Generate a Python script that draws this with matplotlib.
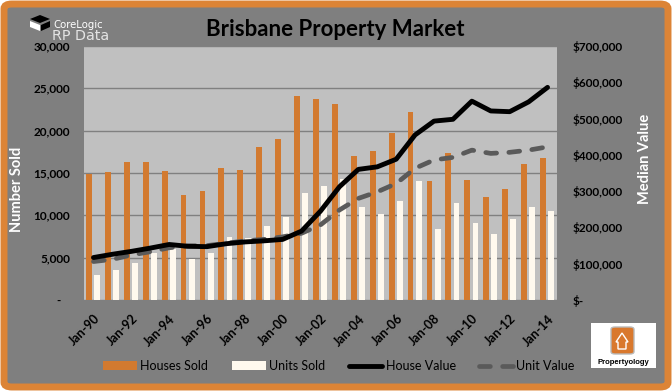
import matplotlib.pyplot as plt
import numpy as np
from matplotlib.lines import Line2D
from matplotlib.patches import FancyBboxPatch, Patch, Polygon, Rectangle

# data
years = list(range(1990, 2015))
houses_sold = [14900, 15100, 16300, 16300, 15200, 12400, 12900, 15600, 15350, 18100,
               19000, 24100, 23700, 23100, 17000, 17600, 19750, 22200, 14050, 17400,
               14200, 12200, 13100, 16100, 16800]
units_sold = [3000, 3550, 4400, 5500, 6050, 4850, 5500, 7500, 7300, 8750,
              9800, 12650, 13500, 14300, 11000, 10200, 11700, 14050, 8400, 11500,
              9100, 7800, 9600, 11000, 10500]
house_value = [117000, 126000, 134000, 143000, 153000, 148000, 147000, 155000, 160000, 163000,
               167000, 190000, 245000, 312000, 360000, 367000, 388000, 455000, 493000, 498000,
               548000, 521000, 519000, 546000, 586000]
unit_value = [106000, 112000, 124000, 133000, 144000, 149000, 150000, 156000, 163000, 167000,
              174000, 184000, 207000, 248000, 280000, 298000, 321000, 363000, 386000, 393000,
              413000, 404000, 407000, 413000, 422000]
left_ticks = [0, 5000, 10000, 15000, 20000, 25000, 30000]
right_ticks = [0, 100000, 200000, 300000, 400000, 500000, 600000, 700000]

labels = [f"Jan-{y % 100:02d}" for y in years]

ORANGE = "#d27a30"
CREAM = "#fff9ee"
GREY_BG = "#7f7f7f"
PLOT_BG = "#c0c0c0"
FONT = "Lato"

W, H = 672, 391


def fx(px):
    return px / W


def fy(py):
    return 1 - py / H


fig = plt.figure(figsize=(W / 100, H / 100), dpi=100)
fig.patch.set_facecolor("white")

# orange frame with grey fill
frame = FancyBboxPatch((fx(4), fy(387)), fx(664), 383 / H,
                       boxstyle="round,pad=0,rounding_size=0.012",
                       transform=fig.transFigure, facecolor=GREY_BG,
                       edgecolor="#dc8436", linewidth=5, zorder=-10)
fig.patches.append(frame)

ax = fig.add_axes([fx(84), fy(300), fx(557) - fx(84), (300 - 46) / H])
ax.set_facecolor(PLOT_BG)
x = np.arange(len(years))

ax.bar(x - 0.24, houses_sold, width=0.31, color=ORANGE, zorder=2)
ax.bar(x + 0.19, units_sold, width=0.31, color=CREAM, zorder=2)

ax.set_xlim(-0.5, len(years) - 0.5)
ax.set_ylim(0, 30000)
ax.set_yticks(left_ticks)
ax.set_yticklabels(["-   "] + [f"{v:,}" for v in left_ticks[1:]])
ax.set_xticks(x[::2])
ax.set_xticklabels(labels[::2], rotation=45, ha="right", va="top",
                   rotation_mode="anchor")
ax.grid(axis="y", color="#808080", linewidth=1, zorder=1)
ax.set_axisbelow(True)
ax.tick_params(axis="y", length=0, labelsize=8.5, pad=10)
ax.tick_params(axis="x", length=0, labelsize=9, pad=9)
for s in ax.spines.values():
    s.set_visible(False)
for t in ax.get_xticklabels() + ax.get_yticklabels():
    t.set_fontfamily(FONT)
    t.set_fontweight("bold")

ax2 = ax.twinx()
ax2.plot(x, house_value, color="black", linewidth=3.5, solid_capstyle="round",
         solid_joinstyle="round", zorder=4)
ax2.plot(x, unit_value, color="#5a5a5a", linewidth=3.4, dashes=(2.3, 2.6),
         dash_capstyle="round", zorder=3)
ax2.set_ylim(0, 700000)
ax2.set_yticks(right_ticks)
ax2.set_yticklabels(["$-"] + [f"${v:,}" for v in right_ticks[1:]])
ax2.tick_params(length=0, labelsize=8.5, pad=11)
for s in ax2.spines.values():
    s.set_visible(False)
for t in ax2.get_yticklabels():
    t.set_fontfamily(FONT)
    t.set_fontweight("bold")
    t.set_ha("left")

# titles
fig.text(fx(335), fy(30), "Brisbane Property Market", ha="center", va="center",
         fontsize=16, fontweight="bold", fontfamily=FONT, color="black")
fig.text(fx(17), fy(189), "Number Sold", rotation=90, ha="center", va="center",
         fontsize=10.5, fontweight="bold", fontfamily=FONT, color="white")
fig.text(fx(645), fy(159), "Median Value", rotation=90, ha="center", va="center",
         fontsize=10.5, fontweight="bold", fontfamily=FONT, color="white")

# legend
handles = [
    Patch(facecolor=ORANGE, edgecolor="none"),
    Patch(facecolor=CREAM, edgecolor="none"),
    Line2D([], [], color="black", linewidth=3.5, solid_capstyle="round"),
    Line2D([], [], color="#5a5a5a", linewidth=3.4, dashes=(2.3, 2.6),
           dash_capstyle="round"),
]
fig.legend(handles, ["Houses Sold", "Units Sold", "House Value", "Unit Value"],
           loc="center", bbox_to_anchor=(fx(339), fy(366)), ncol=4, frameon=False,
           handlelength=2.7, handletextpad=0.25, columnspacing=1.9,
           prop={"family": FONT, "size": 9})

# CoreLogic RP Data logo
fig.patches.append(Polygon([(fx(30), fy(19)), (fx(40), fy(15)), (fx(50), fy(19)),
                            (fx(40), fy(23))], closed=True, transform=fig.transFigure,
                           facecolor="black", edgecolor="none"))
fig.patches.append(Polygon([(fx(30), fy(21)), (fx(40), fy(25)), (fx(40), fy(31)),
                            (fx(30), fy(27))], closed=True, transform=fig.transFigure,
                           facecolor="white", edgecolor="none"))
fig.patches.append(Polygon([(fx(41), fy(25)), (fx(50), fy(21)), (fx(50), fy(27)),
                            (fx(41), fy(31))], closed=True, transform=fig.transFigure,
                           facecolor="black", edgecolor="none"))
fig.text(fx(53), fy(25), "CoreLogic", ha="left", va="center", fontsize=7.3,
         fontfamily="DejaVu Sans", color="white")
fig.text(fx(52), fy(36), "RP Data", ha="left", va="center", fontsize=10.3,
         fontfamily="DejaVu Sans", color="#e4e4e4")

# Propertyology logo
fig.patches.append(Rectangle((fx(591), fy(368)), fx(65), 45 / H,
                             transform=fig.transFigure, facecolor="white",
                             edgecolor="none"))
fig.patches.append(FancyBboxPatch((fx(611), fy(354)), fx(23), 27 / H,
                                  boxstyle="round,pad=0,rounding_size=0.006",
                                  transform=fig.transFigure, facecolor="#d9782d",
                                  edgecolor="#b9b9b9", linewidth=1))
fig.patches.append(Polygon([(fx(616), fy(342)), (fx(622), fy(333)), (fx(628), fy(342)),
                            (fx(626), fy(342)), (fx(626), fy(349)), (fx(618), fy(349)),
                            (fx(618), fy(342))], closed=True, transform=fig.transFigure,
                           facecolor="none", edgecolor="white", linewidth=1))
fig.text(fx(623.5), fy(362), "Propertyology", ha="center", va="center", fontsize=5.5,
         fontweight="bold", fontfamily="Liberation Sans", color="black")

fig.savefig("out.png", dpi=100, facecolor=fig.get_facecolor())
